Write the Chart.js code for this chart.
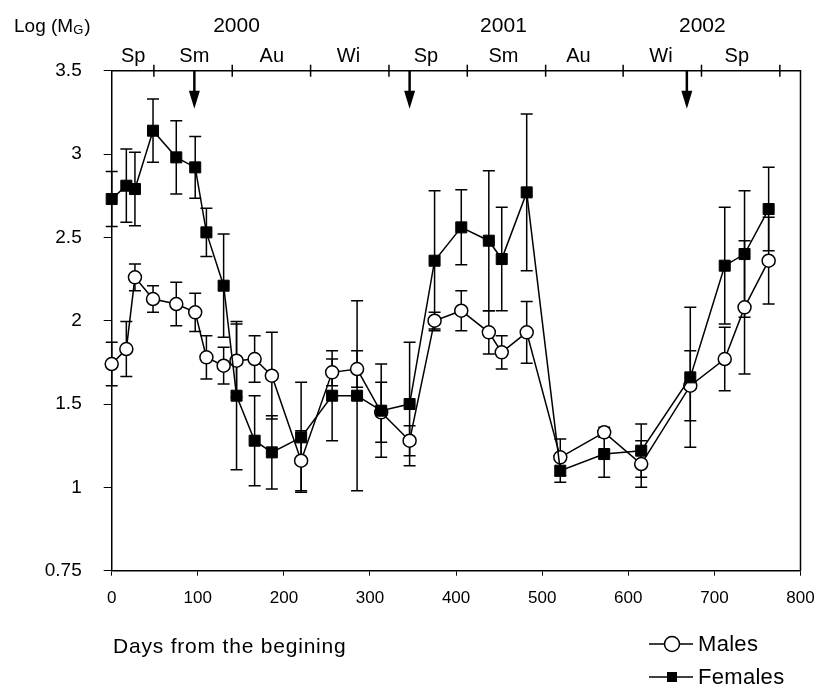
<!DOCTYPE html>
<html>
<head>
<meta charset="utf-8">
<script src="https://cdn.jsdelivr.net/npm/chart.js@4.4.0/dist/chart.umd.min.js"></script>
<style>
  html, body { margin: 0; padding: 0; background: #fff; }
</style>
</head>
<body>
<canvas id="myChart" width="818" height="689"></canvas>
<script>
// days from the beginning of sampling
let days = [0, 17, 27, 48, 75, 97, 110, 130, 145, 166, 186, 220, 256, 285,
            313, 346, 375, 406, 438, 453, 482, 521, 572, 615, 672, 712, 735, 763];

let males = [1.74, 1.83, 2.26, 2.13, 2.10, 2.05, 1.78, 1.73, 1.76, 1.77, 1.67, 1.16, 1.69, 1.71,
             1.45, 1.28, 2.00, 2.06, 1.93, 1.81, 1.93, 1.18, 1.33, 1.14, 1.61, 1.77, 2.08, 2.36];
let malesErr = [0.13, 0.165, 0.08, 0.08, 0.13, 0.115, 0.13, 0.11, 0.22, 0.14, 0.26, 0.18, 0.08, 0.11,
                0.18, 0.09, 0.05, 0.12, 0.13, 0.10, 0.185, 0.11, 0.03, 0.14, 0.21, 0.19, 0.40, 0.26];

let females = [2.73, 2.81, 2.79, 3.14, 2.98, 2.92, 2.53, 2.21, 1.55, 1.28, 1.21, 1.30, 1.55, 1.55,
               1.46, 1.50, 2.36, 2.56, 2.48, 2.37, 2.77, 1.10, 1.20, 1.22, 1.66, 2.33, 2.40, 2.67];
let femalesErr = [0.165, 0.22, 0.22, 0.19, 0.22, 0.185, 0.145, 0.31, 0.445, 0.27, 0.22, 0.33, 0.27, 0.57,
                  0.28, 0.37, 0.42, 0.225, 0.42, 0.31, 0.47, 0.07, 0.14, 0.16, 0.42, 0.35, 0.38, 0.25];

let yTickValues = [0.5, 1, 1.5, 2, 2.5, 3, 3.5];
let yTickLabels = ['0.75', '1', '1.5', '2', '2.5', '3', '3.5'];

let seasonBounds = [49, 140, 231, 322, 413, 504, 594, 685, 776];
let seasonLabels = ['Sp', 'Sm', 'Au', 'Wi', 'Sp', 'Sm', 'Au', 'Wi', 'Sp'];
let seasonDays = [25, 96, 186, 275, 365, 455, 542, 638, 726];
let yearLabels = ['2000', '2001', '2002'];
let yearDays = [145, 455, 686];
let arrowDays = [96, 346, 668];

const FONT = '"Liberation Sans", Arial, sans-serif';

function toPoints(vals) {
  return vals.map((v, i) => ({ x: days[i], y: v }));
}

const errorBars = {
  id: 'errorBars',
  beforeDatasetsDraw(chart) {
    const ctx = chart.ctx;
    const xs = chart.scales.x, ys = chart.scales.y;
    ctx.save();
    ctx.strokeStyle = '#000';
    ctx.lineWidth = 1.5;
    chart.data.datasets.forEach((ds) => {
      ds.data.forEach((p, i) => {
        const e = ds.errors[i];
        const x = xs.getPixelForValue(p.x);
        const top = ys.getPixelForValue(p.y + e);
        const bot = ys.getPixelForValue(p.y - e);
        ctx.beginPath();
        ctx.moveTo(x, top); ctx.lineTo(x, bot);
        ctx.moveTo(x - 6, top); ctx.lineTo(x + 6, top);
        ctx.moveTo(x - 6, bot); ctx.lineTo(x + 6, bot);
        ctx.stroke();
      });
    });
    ctx.restore();
  }
};

const decorations = {
  id: 'decorations',
  afterDraw(chart) {
    const ctx = chart.ctx;
    const a = chart.chartArea;
    const xs = chart.scales.x;
    ctx.save();
    ctx.strokeStyle = '#000';
    ctx.fillStyle = '#000';
    ctx.lineWidth = 1.5;

    // frame: top and right sides
    ctx.beginPath();
    ctx.moveTo(a.left, a.top); ctx.lineTo(a.right, a.top); ctx.lineTo(a.right, a.bottom);
    ctx.stroke();

    // season boundary ticks on the top axis
    seasonBounds.forEach((d) => {
      const x = xs.getPixelForValue(d);
      ctx.beginPath(); ctx.moveTo(x, a.top - 6); ctx.lineTo(x, a.top + 6); ctx.stroke();
    });

    // season and year labels
    ctx.textAlign = 'center';
    ctx.textBaseline = 'alphabetic';
    ctx.font = '20px ' + FONT;
    seasonLabels.forEach((s, i) => ctx.fillText(s, xs.getPixelForValue(seasonDays[i]), 61.5));
    ctx.font = '21px ' + FONT;
    yearLabels.forEach((s, i) => ctx.fillText(s, xs.getPixelForValue(yearDays[i]), 32));

    // arrows
    arrowDays.forEach((d) => {
      const x = xs.getPixelForValue(d);
      ctx.lineWidth = 2.5;
      ctx.beginPath(); ctx.moveTo(x, a.top); ctx.lineTo(x, a.top + 22); ctx.stroke();
      ctx.beginPath();
      ctx.moveTo(x - 5.5, a.top + 20); ctx.lineTo(x + 5.5, a.top + 20); ctx.lineTo(x, a.top + 38);
      ctx.closePath(); ctx.fill();
    });
    ctx.lineWidth = 1.5;

    // y axis title: Log (M_G)
    ctx.textAlign = 'left';
    ctx.font = '19px ' + FONT;
    let tx = 14;
    ctx.fillText('Log (M', tx, 31.5);
    tx += ctx.measureText('Log (M').width;
    ctx.font = '13px ' + FONT;
    ctx.fillText('G', tx, 34);
    tx += ctx.measureText('G').width;
    ctx.font = '19px ' + FONT;
    ctx.fillText(')', tx + 1, 31.5);

    // x axis title
    ctx.font = '21px ' + FONT;
    ctx.letterSpacing = '0.8px';
    ctx.textBaseline = 'middle';
    ctx.fillText('Days from the begining', 113, 647);

    // legend
    ctx.letterSpacing = '0.3px';
    ctx.font = '22px ' + FONT;
    const items = [
      { label: chart.data.datasets[0].label, y: 644, circle: true },
      { label: chart.data.datasets[1].label, y: 677, circle: false }
    ];
    items.forEach((it) => {
      ctx.beginPath(); ctx.moveTo(649, it.y); ctx.lineTo(693, it.y); ctx.stroke();
      if (it.circle) {
        ctx.beginPath(); ctx.arc(672, it.y, 7.5, 0, Math.PI * 2);
        ctx.fillStyle = '#fff'; ctx.fill(); ctx.stroke();
        ctx.fillStyle = '#000';
      } else {
        ctx.fillRect(667, it.y - 5, 10, 10);
      }
      ctx.fillText(it.label, 698, it.y + 1);
    });
    ctx.restore();
  }
};

const chart = new Chart(document.getElementById('myChart').getContext('2d'), {
  type: 'line',
  data: {
    datasets: [
      {
        label: 'Males',
        data: toPoints(males),
        errors: malesErr,
        borderColor: '#000',
        borderWidth: 1.5,
        pointStyle: 'circle',
        pointRadius: 6.5,
        pointBackgroundColor: '#fff',
        pointBorderColor: '#000',
        pointBorderWidth: 1.5,
        tension: 0,
        clip: false,
        order: 2
      },
      {
        label: 'Females',
        data: toPoints(females),
        errors: femalesErr,
        borderColor: '#000',
        borderWidth: 1.5,
        pointStyle: 'rect',
        pointRadius: 7.8,
        pointBackgroundColor: '#000',
        pointBorderColor: '#000',
        pointBorderWidth: 1,
        tension: 0,
        clip: false,
        order: 1
      }
    ]
  },
  options: {
    responsive: false,
    animation: false,
    events: [],
    layout: { padding: { top: 70.7, right: 17.5, left: 0, bottom: 0 } },
    plugins: {
      legend: { display: false },
      tooltip: { enabled: false }
    },
    scales: {
      x: {
        type: 'linear',
        min: 0,
        max: 800,
        afterFit: (s) => {
          s.height = 689 - 570.7;
          s.paddingLeft = 0;
          s.paddingRight = 0;
        },
        ticks: { stepSize: 100, color: '#000', font: { family: FONT, size: 17 }, padding: 12, maxRotation: 0 },
        grid: { drawOnChartArea: false, drawTicks: true, tickLength: 5, color: '#000', lineWidth: 1 },
        border: { color: '#000', width: 1.5 }
      },
      y: {
        type: 'linear',
        min: 0.5,
        max: 3.5,
        afterFit: (s) => {
          s.width = 111.7;
          s.paddingTop = 0;
          s.paddingBottom = 0;
        },
        afterBuildTicks: (s) => { s.ticks = yTickValues.map((v) => ({ value: v })); },
        ticks: {
          color: '#000',
          font: { family: FONT, size: 19 },
          padding: 22,
          callback: (v) => yTickLabels[yTickValues.indexOf(v)]
        },
        grid: { drawOnChartArea: false, drawTicks: true, tickLength: 8, color: '#000', lineWidth: 1 },
        border: { color: '#000', width: 1.5 }
      }
    }
  },
  plugins: [errorBars, decorations]
});
</script>
</body>
</html>
